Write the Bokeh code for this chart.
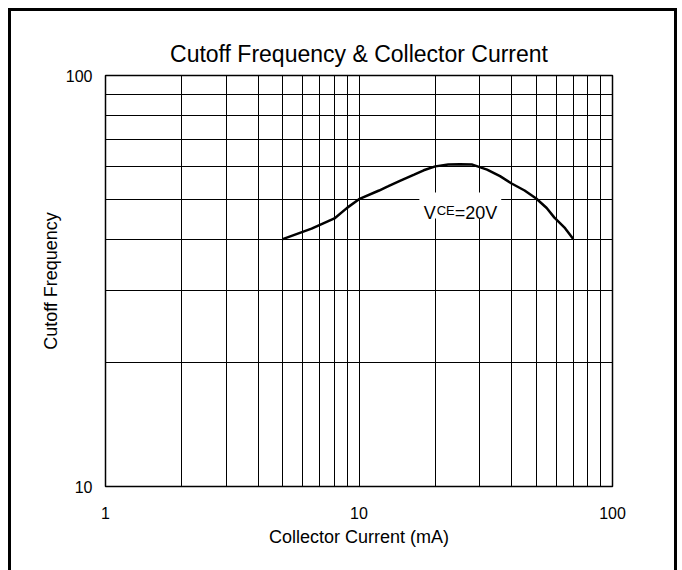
from bokeh.plotting import figure
from bokeh.models import FixedTicker, Label, BoxAnnotation
from bokeh.embed import file_html
from bokeh.resources import INLINE

# Data
ic_ma = [5, 6.5, 8, 9, 10, 12, 13, 14.5, 16.5, 18, 20, 22.5, 25, 28, 32, 36, 40, 45, 50, 55, 59, 65, 70]
ft = [40, 42.4, 44.9, 47.7, 50, 52.5, 53.7, 55.4, 57.4, 58.8, 60.1, 60.7, 60.8, 60.7, 59.0, 56.9,
      54.6, 52.5, 50.2, 47.6, 45.1, 42.5, 40]

x_major = [1, 10, 100]
x_minor = [2, 3, 4, 5, 6, 7, 8, 9, 20, 30, 40, 50, 60, 70, 80, 90]
y_major = [10, 100]
y_minor = [20, 30, 40, 50, 60, 70, 80, 90]

FONT = "Liberation Sans"
W, H = 669, 562

p = figure(width=W, height=H, x_axis_type="log", y_axis_type="log",
           x_range=(1, 100), y_range=(10, 100),
           output_backend="svg", toolbar_location=None,
           title="Cutoff Frequency & Collector Current",
           min_border_left=94, min_border_right=68, min_border_top=64, min_border_bottom=87)

# outer frame of the chart (bottom edge lies below the window)
p.styles = {"margin": "8px 0 0 8px", "border-style": "solid", "border-color": "black",
            "border-width": "3px 3px 0 3px"}

p.title.align = "center"
p.title.text_font = FONT
p.title.text_font_size = "23px"
p.title.text_font_style = "normal"
p.title.text_color = "black"
p.title.standoff = 18

p.outline_line_color = "black"
p.outline_line_width = 1.5
p.background_fill_color = "white"
p.border_fill_color = "white"

p.xaxis.ticker = FixedTicker(ticks=x_major, minor_ticks=x_minor)
p.yaxis.ticker = FixedTicker(ticks=y_major, minor_ticks=y_minor)
p.xaxis.major_label_overrides = {1: "1", 10: "10", 100: "100"}
p.yaxis.major_label_overrides = {10: "10", 100: "100"}

for ax in (p.xaxis, p.yaxis):
    ax.axis_line_color = None
    ax.major_tick_line_color = None
    ax.minor_tick_line_color = None
    ax.major_tick_out = 0
    ax.major_tick_in = 0
    ax.minor_tick_out = 0
    ax.minor_tick_in = 0
    ax.major_label_text_font = FONT
    ax.major_label_text_font_size = "16px"
    ax.major_label_text_color = "black"
    ax.axis_label_text_font = FONT
    ax.axis_label_text_font_size = "18px"
    ax.axis_label_text_font_style = "normal"
    ax.axis_label_text_color = "black"

p.xaxis.axis_label = "Collector Current (mA)"
p.yaxis.axis_label = "Cutoff Frequency"
p.xaxis.major_label_standoff = 20
p.xaxis.axis_label_standoff = 5
p.yaxis.major_label_standoff = 13
p.yaxis.axis_label_standoff = 2

for g in (p.xgrid, p.ygrid):
    g.grid_line_color = "black"
    g.grid_line_width = 1
    g.minor_grid_line_color = "black"
    g.minor_grid_line_width = 1

p.line(ic_ma, ft, line_color="black", line_width=2.5)

# label with white background
p.add_layout(BoxAnnotation(left=17.3, right=36.4, bottom=44.9, top=51.9,
                           fill_color="white", fill_alpha=1, line_color=None))
lx, ly = 18.0, 46.2
p.add_layout(Label(x=lx, y=ly, text="V", text_font=FONT, text_font_size="18px",
                   text_baseline="alphabetic", text_color="black"))
p.add_layout(Label(x=lx, y=ly, x_offset=13, y_offset=3, text="CE", text_font=FONT,
                   text_font_size="13px", text_baseline="alphabetic", text_color="black"))
p.add_layout(Label(x=lx, y=ly, x_offset=31, text="=20V", text_font=FONT, text_font_size="18px",
                   text_baseline="alphabetic", text_color="black"))

open("out.html", "w").write(file_html(p, INLINE))
